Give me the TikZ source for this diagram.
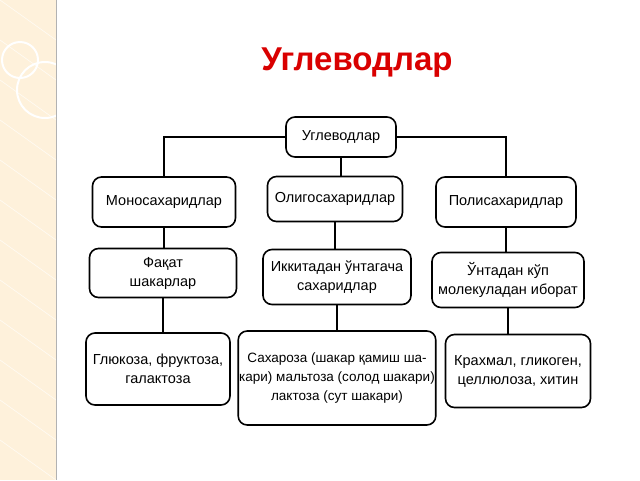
\documentclass[tikz,border=0pt]{standalone}
\usepackage{fontspec}
\setmainfont{Liberation Sans}
\begin{document}
\begin{tikzpicture}[x=1pt,y=-1pt,
  bx/.style={draw=black,line width=1.6pt,rounded corners=9pt,fill=white,align=center,font=\fontsize{14.5}{19}\selectfont,inner sep=1pt},
  ln/.style={line width=1.2pt}]
\useasboundingbox (0,0) rectangle (640,480);
\fill[white] (0,0) rectangle (640,480);
\fill[yellow!15!orange!12] (0,0) rectangle (56,480);
\begin{scope}
\clip (0,0) rectangle (56,480);
\foreach \y in {0,40,...,480} {\draw[white,line width=0.6pt,opacity=0.7] (0,\y) -- (56,\y+40);}
\draw[white,line width=2pt] (45,90) circle (28);
\draw[white,line width=2pt] (20,60) circle (18);
\end{scope}
\draw[gray!60,line width=1pt] (56,0) -- (56,480);
\node[font=\bfseries\fontsize{33}{36}\selectfont,text=red!85!black] (title) at (357,63) {Углеводлар};
\node[bx,minimum width=110pt,minimum height=40pt] (top) at (341,137) {Углеводлар};
\node[bx,minimum width=143pt,minimum height=50pt] (m1) at (164,202) {Моносахаридлар};
\node[bx,minimum width=135pt,minimum height=45pt] (o1) at (335,199) {Олигосахаридлар};
\node[bx,minimum width=140pt,minimum height=50pt] (p1) at (506,202) {Полисахаридлар};
\node[bx,minimum width=147pt,minimum height=49pt] (m2) at (163,273) {Фақат\\шакарлар};
\node[bx,minimum width=148pt,minimum height=55pt] (o2) at (337,277) {Иккитадан ўнтагача\\сахаридлар};
\node[bx,minimum width=152pt,minimum height=55pt] (p2) at (508,280) {Ўнтадан кўп\\молекуладан иборат};
\node[bx,minimum width=144pt,minimum height=72pt] (m3) at (158,369) {Глюкоза, фруктоза,\\галактоза};
\node[bx,minimum width=193pt,minimum height=94pt,font=\fontsize{13.5}{19}\selectfont] (o3) at (337,378) {Сахароза (шакар қамиш ша-\\кари) мальтоза (солод шакари)\\лактоза (сут шакари)};
\node[bx,minimum width=145pt,minimum height=73pt] (p3) at (518,371) {Крахмал, гликоген,\\целлюлоза, хитин};
\draw[ln] (top.west) -| (m1.north);
\draw[ln] (top.east) -| (p1.north);
\draw[ln] (top.south) -- (top.south |- o1.north);
\draw[ln] (m1.south) -- (m1.south |- m2.north);
\draw[ln] (m2.south) -- (m2.south |- m3.north);
\draw[ln] (o1.south) -- (o1.south |- o2.north);
\draw[ln] (o2.south) -- (o2.south |- o3.north);
\draw[ln] (p1.south) -- (p1.south |- p2.north);
\draw[ln] (p2.south) -- (p2.south |- p3.north);
\end{tikzpicture}
\end{document}
